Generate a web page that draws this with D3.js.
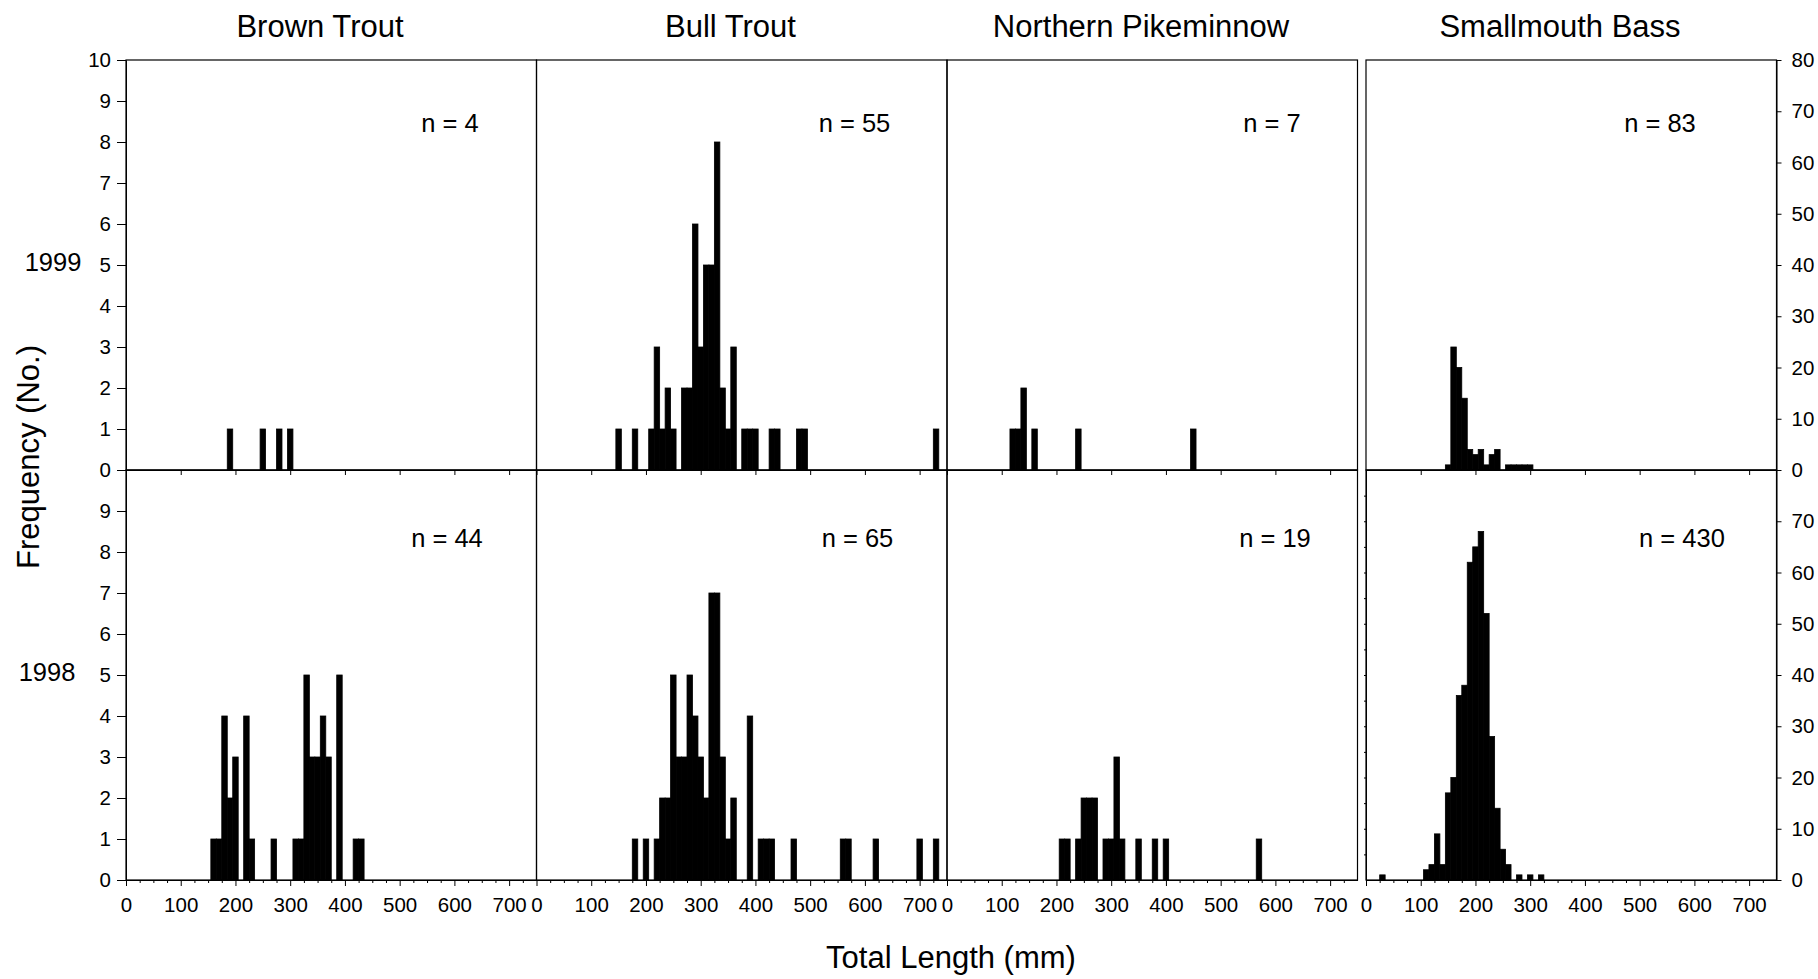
<!DOCTYPE html>
<html>
<head>
<meta charset="utf-8">
<script src="https://cdn.jsdelivr.net/npm/d3@7"></script>
<style>
body{margin:0;background:#fff;}
svg{font-family:'Liberation Sans',Arial,Helvetica,sans-serif;}
.axis path,.axis line{stroke:#000;}
</style>
</head>
<body>
<div id="app"></div>
<script>
// species columns and year rows
var species=['Brown Trout','Bull Trout','Northern Pikeminnow','Smallmouth Bass'];
var years=['1999','1998'];
var sampleSizes=[[4,55,7,83],[44,65,19,430]];

// tick labels
var xTicks=[0,100,200,300,400,500,600,700];
var leftTicks1999=[0,1,2,3,4,5,6,7,8,9,10];
var leftTicks1998=[0,1,2,3,4,5,6,7,8,9];
var rightTicks1999=[0,10,20,30,40,50,60,70,80];
var rightTicks1998=[0,10,20,30,40,50,60,70];

// length classes (mm, 10 mm bins) and counts
var brown99Len=[190,250,280,300];
var brown99Cnt=[1,1,1,1];
var bull99Len=[150,180,210,220,230,240,250,270,280,290,300,310,320,330,340,350,360,380,390,400,430,440,480,490,730];
var bull99Cnt=[1,1,1,3,1,2,1,2,2,6,3,5,5,8,2,1,3,1,1,1,1,1,1,1,1];
var pike99Len=[120,130,140,160,240,450];
var pike99Cnt=[1,1,2,1,1,1];
var bass99Len=[150,160,170,180,190,200,210,220,230,240,260,270,280,290,300];
var bass99Cnt=[1,24,20,14,4,3,4,1,3,4,1,1,1,1,1];

var brown98Len=[160,170,180,190,200,220,230,270,310,320,330,340,350,360,370,390,420,430];
var brown98Cnt=[1,1,4,2,3,4,1,1,1,1,5,3,3,4,3,5,1,1];
var bull98Len=[180,200,220,230,240,250,260,270,280,290,300,310,320,330,340,350,360,390,410,420,430,470,560,570,620,700,730];
var bull98Cnt=[1,1,1,2,2,5,3,3,5,4,3,2,7,7,3,1,2,4,1,1,1,1,1,1,1,1,1];
var pike98Len=[210,220,240,250,260,270,290,300,310,320,350,380,400,570];
var pike98Cnt=[1,1,1,2,2,2,1,1,3,1,1,1,1,1];
var bass98Len=[30,110,120,130,140,150,160,170,180,190,200,210,220,230,240,250,260,280,300,320];
var bass98Cnt=[1,2,3,9,3,17,20,36,38,62,65,68,52,28,14,6,3,1,1,1];

var panelData=[
  [[brown99Len,brown99Cnt],[bull99Len,bull99Cnt],[pike99Len,pike99Cnt],[bass99Len,bass99Cnt]],
  [[brown98Len,brown98Cnt],[bull98Len,bull98Cnt],[pike98Len,pike98Cnt],[bass98Len,bass98Cnt]]
];

// layout
var colX=[126,536.5,947,1366];
var rowY=[60,470];
var panelW=410.5, panelH=410;
var nLabelDx=[[324,318,325,294],[321,321,328,316]];
var nLabelDy=[72,77];

var svg=d3.select('#app')
  .append('svg')
    .attr('width',1818)
    .attr('height',979);

function styleAxis(g,size){
  g.attr('class','axis')
    .attr('font-family',null)
    .attr('font-size',size);
  g.selectAll('text').attr('fill','#000');
}

years.forEach(function(year,r){
  species.forEach(function(sp,c){
    var x0=colX[c], y0=rowY[r];
    var x=d3.scaleLinear().domain([0,750]).range([x0,x0+panelW]);
    var yMax=(c===3)?80:10;
    var y=d3.scaleLinear().domain([0,yMax]).range([y0+panelH,y0]);
    var lens=panelData[r][c][0], cnts=panelData[r][c][1];

    var g=svg.append('g').attr('class','panel');

    g.selectAll('rect.bar')
      .data(lens)
    .enter().append('rect')
      .attr('class','bar')
      .attr('x',function(d){return x(d-5);})
      .attr('width',function(d){return x(d+5)-x(d-5);})
      .attr('y',function(d,i){return y(cnts[i]);})
      .attr('height',function(d,i){return y(0)-y(cnts[i]);})
      .attr('fill','#000')
      .attr('stroke','#000')
      .attr('stroke-width',0.8);

    g.append('rect')
      .attr('x',x0)
      .attr('y',y0)
      .attr('width',panelW)
      .attr('height',panelH)
      .attr('fill','none')
      .attr('stroke','#000')
      .attr('stroke-width',1.2);

    // x axis
    if(r===0){
      g.append('g')
        .attr('transform','translate(0,'+(y0+panelH)+')')
        .call(d3.axisBottom(x).tickValues(xTicks).tickSize(5).tickSizeOuter(0).tickFormat(''))
        .call(styleAxis,20.5);
    } else {
      var minor=d3.range(0,750,25).filter(function(v){return v%100!==0;});
      g.append('g')
        .attr('transform','translate(0,'+(y0+panelH)+')')
        .call(d3.axisBottom(x).tickValues(minor).tickSize(3).tickSizeOuter(0).tickFormat(''))
        .call(styleAxis,20.5);
      g.append('g')
        .attr('transform','translate(0,'+(y0+panelH)+')')
        .call(d3.axisBottom(x).tickValues(xTicks).tickSize(6).tickPadding(11).tickSizeOuter(0))
        .call(styleAxis,20.5);
    }

    // y axes
    if(c===0){
      g.append('g')
        .attr('transform','translate('+x0+',0)')
        .call(d3.axisLeft(y).tickValues(r===0?leftTicks1999:leftTicks1998).tickSize(9).tickPadding(6).tickSizeOuter(0))
        .call(styleAxis,20.5);
    }
    if(c===3){
      g.append('g')
        .attr('transform','translate('+(x0+panelW)+',0)')
        .call(d3.axisRight(y).tickValues(r===0?rightTicks1999:rightTicks1998).tickSize(5).tickPadding(10).tickSizeOuter(0))
        .call(styleAxis,20.5);
      if(r===1){
        g.append('g')
          .attr('transform','translate('+x0+',0)')
          .call(d3.axisLeft(y).tickValues(d3.range(5,80,5)).tickSize(2).tickSizeOuter(0).tickFormat(''))
          .call(styleAxis,20.5);
      }
    }

    g.append('text')
      .text('n = '+sampleSizes[r][c])
      .attr('x',x0+nLabelDx[r][c])
      .attr('y',y0+nLabelDy[r])
      .attr('text-anchor','middle')
      .attr('font-size',25.5);
  });
});

// column titles
svg.selectAll('text.title')
  .data(species)
.enter().append('text')
  .attr('class','title')
  .text(function(d){return d;})
  .attr('x',function(d,i){return colX[i]+194;})
  .attr('y',37)
  .attr('text-anchor','middle')
  .attr('font-size',31);

// row labels
svg.append('text').text(years[0])
  .attr('x',53).attr('y',271)
  .attr('text-anchor','middle').attr('font-size',25.5);
svg.append('text').text(years[1])
  .attr('x',47).attr('y',681)
  .attr('text-anchor','middle').attr('font-size',25.5);

svg.append('text')
  .text('Frequency (No.)')
  .attr('transform','translate(39,457) rotate(-90)')
  .attr('text-anchor','middle')
  .attr('font-size',31);

svg.append('text')
  .text('Total Length (mm)')
  .attr('x',951)
  .attr('y',968)
  .attr('text-anchor','middle')
  .attr('font-size',31);
</script>
</body>
</html>
